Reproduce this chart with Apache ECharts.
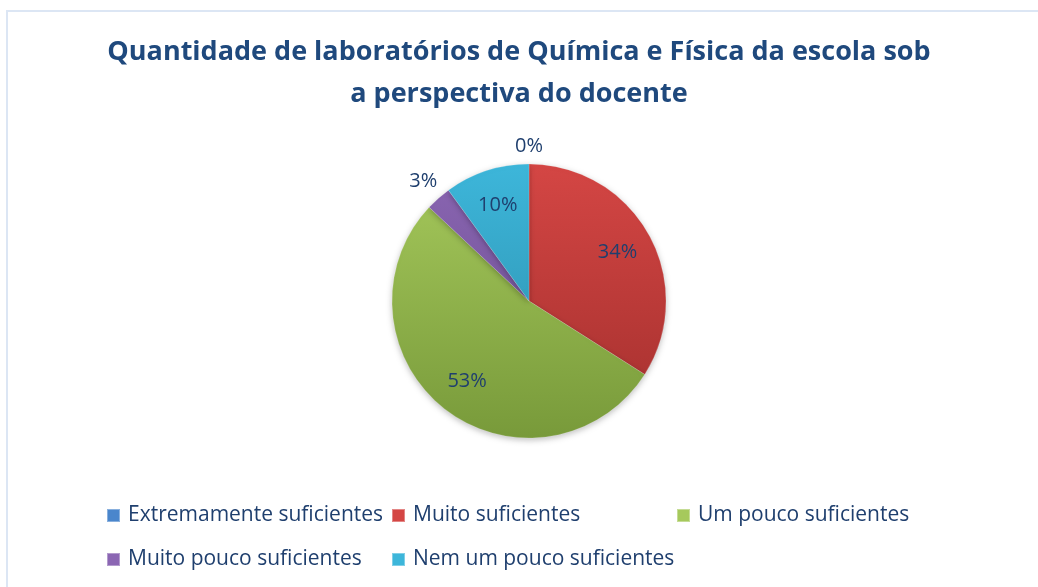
<!DOCTYPE html>
<html>
<head>
<meta charset="utf-8">
<script src="https://cdn.jsdelivr.net/npm/echarts@6/dist/echarts.min.js"></script>
<style>
  html, body { margin: 0; padding: 0; background: #fff; }
  #main { width: 1038px; height: 587px; }
</style>
</head>
<body>
<div id="main"></div>
<script>
var chartDom = document.getElementById('main');
var myChart = echarts.init(chartDom);

// dados
var categorias = ['Extremamente suficientes', 'Muito suficientes', 'Um pouco suficientes',
    'Muito pouco suficientes', 'Nem um pouco suficientes'];
var valores = [0, 34, 53, 3, 10];
// cores (topo, base) para o degradê
var coresTopo = ['#4A86CC', '#D44644', '#A6C95C', '#8B66B3', '#3DB6DA'];
var coresBase = ['#2E5E98', '#A32F2D', '#789A3A', '#664A8A', '#2A8BA8'];

var textColor = '#1F3F6E';
var centro = [529, 301];
var raio = 137;

function degrade(i, y0, y1) {
    return new echarts.graphic.LinearGradient(0, y0, 0, y1, [
        { offset: 0, color: coresTopo[i] },
        { offset: 1, color: coresBase[i] }
    ], true);
}

// legenda: uma por item, em grade
var legCols = [106, 391, 676];
var legRows = [507, 551];
var legends = categorias.map(function (nome, i) {
    var col = i < 3 ? i : i - 3;
    var row = i < 3 ? 0 : 1;
    return {
        data: [{ name: nome, itemStyle: { color: degrade(i, legRows[row], legRows[row] + 13) } }],
        left: legCols[col],
        top: legRows[row] - 2,
        padding: 0,
        itemWidth: 13,
        itemHeight: 13,
        itemGap: 0,
        icon: 'rect',
        selectedMode: false,
        textStyle: {
            color: textColor,
            fontFamily: 'Open Sans',
            fontSize: 21,
            padding: [0, 0, 0, 3]
        }
    };
});

option = {
    backgroundColor: '#fff',
    title: {
        text: 'Quantidade de laboratórios de Química e Física da escola sob\na perspectiva do docente',
        left: 'center',
        top: 26,
        textStyle: {
            color: '#1F497D',
            fontFamily: 'Open Sans',
            fontWeight: 'bold',
            fontSize: 27,
            lineHeight: 42
        }
    },
    graphic: [{
        type: 'polyline',
        shape: { points: [[7, 600], [7, 11], [1040, 11]] },
        style: { stroke: '#DCE6F4', lineWidth: 2, fill: null },
        silent: true
    }],
    legend: legends,
    series: [{
        name: 'Laboratórios',
        type: 'pie',
        center: centro,
        radius: raio,
        startAngle: 90,
        clockwise: true,
        animation: false,
        avoidLabelOverlap: false,
        data: categorias.map(function (nome, i) {
            return {
                name: nome,
                value: valores[i],
                itemStyle: { color: degrade(i, centro[1] - raio, centro[1] + raio) }
            };
        }),
        itemStyle: {
            borderColor: 'rgba(255,255,255,0.35)',
            borderWidth: 0.5,
            shadowColor: 'rgba(0,0,0,0.25)',
            shadowBlur: 6,
            shadowOffsetY: 2
        },
        label: {
            show: true,
            position: 'inside',
            formatter: '{c}%',
            color: textColor,
            fontFamily: 'Open Sans',
            fontSize: 20
        },
        labelLine: { show: false },
        // afasta os rótulos do centro como no original
        labelLayout: function (params) {
            var r = params.labelRect;
            var cx = r.x + r.width / 2;
            var cy = r.y + r.height / 2;
            var dx = cx - centro[0], dy = cy - centro[1];
            var len = Math.sqrt(dx * dx + dy * dy) || 1;
            var v = valores[params.dataIndex];
            var d = v === 0 ? 155 : (v < 5 ? 160 : 101);
            return {
                x: centro[0] + dx / len * d,
                y: centro[1] + dy / len * d,
                align: 'center',
                verticalAlign: 'middle'
            };
        }
    }]
};

myChart.setOption(option);
</script>
</body>
</html>
